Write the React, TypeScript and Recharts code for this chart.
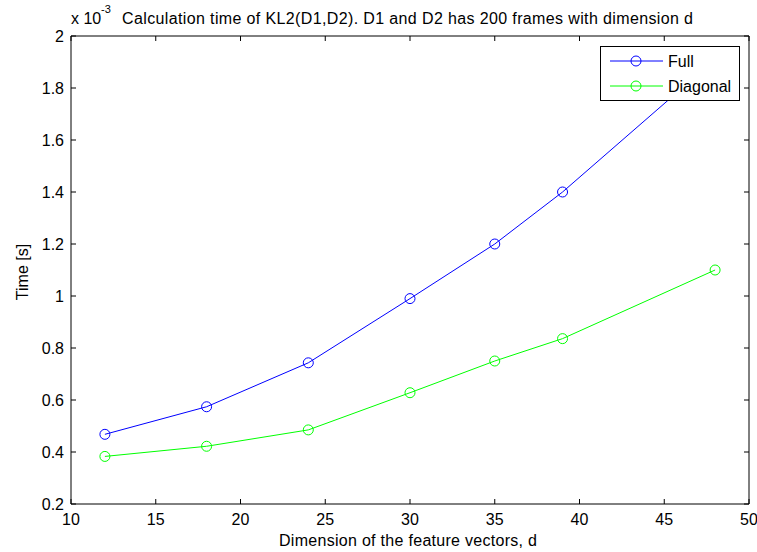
import React from 'react';
import { LineChart, Line, XAxis, YAxis, Legend, Label } from 'recharts';

// ---- data ----
const dims = [12, 18, 24, 30, 35, 39, 48];
const fullTimes = [0.468, 0.574, 0.743, 0.99, 1.2, 1.4, 1.91];
const diagonalTimes = [0.383, 0.422, 0.485, 0.628, 0.75, 0.836, 1.1];
const xTicks = [10, 15, 20, 25, 30, 35, 40, 45, 50];
const yTicks = [0.2, 0.4, 0.6, 0.8, 1, 1.2, 1.4, 1.6, 1.8, 2];
const seriesKeys = ['full', 'diagonal'];
const seriesNames = ['Full', 'Diagonal'];
const seriesColors = ['#0000ff', '#00ff00'];
const titleText = 'Calculation time of KL2(D1,D2). D1 and D2 has 200 frames with dimension d';
const xLabelText = 'Dimension of the feature vectors, d';
const yLabelText = 'Time [s]';

const data = dims.map((d, i) => ({ d, full: fullTimes[i], diagonal: diagonalTimes[i] }));

const FONT = '"Liberation Sans", Arial, Helvetica, sans-serif';
const FS = 16;

const TitleContent = () => (
  <g fontFamily={FONT} fill="#000">
    <text x={71} y={24} fontSize={FS}>x 10</text>
    <text x={101} y={13} fontSize={11}>-3</text>
    <text x={122} y={24} fontSize={FS} textLength={571} lengthAdjust="spacing">
      {titleText}
    </text>
  </g>
);

const XLabelContent = () => (
  <text x={279} y={546} fontFamily={FONT} fontSize={FS} fill="#000" textLength={258} lengthAdjust="spacing">
    {xLabelText}
  </text>
);

const YLabelContent = () => (
  <text
    x={28}
    y={272}
    fontFamily={FONT}
    fontSize={FS}
    fill="#000"
    textAnchor="middle"
    transform="rotate(-90 28 272)"
  >
    {yLabelText}
  </text>
);

const LegendContent = () => (
  <div
    style={{
      width: 140,
      height: 55,
      border: '1px solid #000',
      background: '#fff',
      boxSizing: 'border-box',
    }}
  >
    <svg width={138} height={53} style={{ display: 'block' }}>
      {seriesNames.map((name, i) => {
        const y = 14 + i * 25;
        return (
          <g key={name}>
            <line x1={9} x2={62} y1={y} y2={y} stroke={seriesColors[i]} strokeWidth={1} />
            <circle cx={35} cy={y} r={5} fill="none" stroke={seriesColors[i]} strokeWidth={1} />
            <text x={67} y={y + 6} fontFamily={FONT} fontSize={FS} fill="#000">
              {name}
            </text>
          </g>
        );
      })}
    </svg>
  </div>
);

const tickStyle = { fontFamily: FONT, fontSize: FS, fill: '#000' };

export default function App() {
  return (
    <div style={{ position: 'absolute', left: 0, top: 0, width: 757, height: 552, background: '#fff' }}>
      <LineChart width={757} height={552} data={data} margin={{ top: 35, right: 7, bottom: 0, left: 0 }}>
        <XAxis
          xAxisId="bottom"
          dataKey="d"
          type="number"
          domain={[10, 50]}
          ticks={xTicks}
          interval={0}
          height={48}
          stroke="#000"
          tickSize={-5}
          tickMargin={15}
          tick={tickStyle}
          allowDataOverflow
        >
          <Label content={<XLabelContent />} />
        </XAxis>
        <XAxis
          xAxisId="top"
          orientation="top"
          dataKey="d"
          type="number"
          domain={[10, 50]}
          ticks={xTicks}
          interval={0}
          height={1}
          stroke="#000"
          tickSize={-5}
          tickFormatter={() => ''}
          allowDataOverflow
        >
          <Label content={<TitleContent />} />
        </XAxis>
        <YAxis
          yAxisId="left"
          type="number"
          domain={[0.2, 2]}
          ticks={yTicks}
          interval={0}
          width={71}
          stroke="#000"
          tickSize={-5}
          tickMargin={12}
          tick={tickStyle}
          allowDataOverflow
        >
          <Label content={<YLabelContent />} />
        </YAxis>
        <YAxis
          yAxisId="right"
          orientation="right"
          type="number"
          domain={[0.2, 2]}
          ticks={yTicks}
          interval={0}
          width={1}
          stroke="#000"
          tickSize={-5}
          tickFormatter={() => ''}
          allowDataOverflow
        />
        {seriesKeys.map((k, i) => (
          <Line
            key={k}
            xAxisId="bottom"
            yAxisId="left"
            type="linear"
            dataKey={k}
            name={seriesNames[i]}
            stroke={seriesColors[i]}
            strokeWidth={1}
            dot={{ r: 5, fill: 'none', stroke: seriesColors[i], strokeWidth: 1 }}
            activeDot={false}
            isAnimationActive={false}
          />
        ))}
        <Legend
          layout="vertical"
          align="center"
          verticalAlign="middle"
          content={<LegendContent />}
          wrapperStyle={{ position: 'absolute', left: 600, top: 46, width: 140, height: 55 }}
        />
      </LineChart>
    </div>
  );
}
